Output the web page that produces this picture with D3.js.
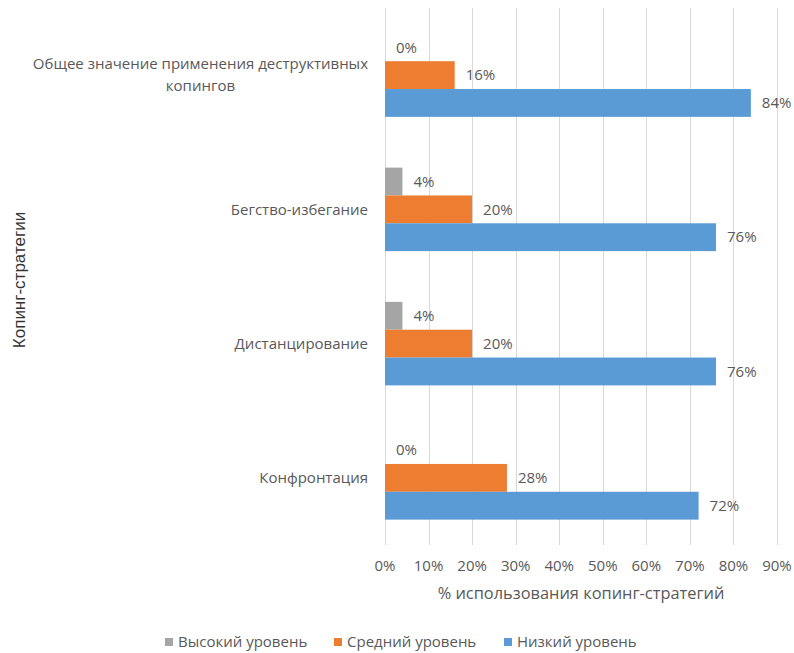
<!DOCTYPE html>
<html>
<head>
<meta charset="utf-8">
<script src="https://cdn.jsdelivr.net/npm/d3@7"></script>
<style>
  html, body { margin: 0; padding: 0; background: #fff; }
  svg { display: block; }
  text { font-family: "Open Sans", "DejaVu Sans", sans-serif; fill: #595959; }
</style>
</head>
<body>
<svg id="chart" width="794" height="653"></svg>
<script>
// Coping strategies, listed top to bottom
const categories = [
  ["Общее значение применения деструктивных", "копингов"],
  ["Бегство-избегание"],
  ["Дистанцирование"],
  ["Конфронтация"]
];
const seriesNames = ["Высокий уровень", "Средний уровень", "Низкий уровень"];
const seriesColors = ["#A5A5A5", "#ED7D31", "#5B9BD5"];

// Percent of respondents per level, in category order
const highValues   = [0, 4, 4, 0];
const mediumValues = [16, 20, 20, 28];
const lowValues    = [84, 76, 76, 72];

const xTicks = [0, 10, 20, 30, 40, 50, 60, 70, 80, 90];

const seriesValues = [highValues, mediumValues, lowValues];

const svg = d3.select("#chart");
const plot = { left: 385, right: 777, top: 8, bottom: 545 };

const x = d3.scaleLinear().domain([0, 90]).range([plot.left, plot.right]);
const y0 = d3.scaleBand()
  .domain(d3.range(categories.length))
  .range([plot.top, plot.bottom])
  .paddingInner(0.378)
  .paddingOuter(0.189);
const y1 = d3.scaleBand()
  .domain(d3.range(seriesNames.length))
  .range([0, y0.bandwidth()]);

// Vertical gridlines
svg.append("g")
  .selectAll("line")
  .data(xTicks)
  .join("line")
  .attr("x1", d => Math.round(x(d)) + 0.5)
  .attr("x2", d => Math.round(x(d)) + 0.5)
  .attr("y1", plot.top)
  .attr("y2", plot.bottom)
  .attr("stroke", "#D9D9D9")
  .attr("stroke-width", 1);

// Bars and their value labels
const groups = svg.append("g")
  .selectAll("g")
  .data(categories.map((c, i) => i))
  .join("g")
  .attr("transform", i => `translate(0,${y0(i)})`);

groups.selectAll("rect")
  .data(i => seriesValues.map((vals, s) => ({ s, v: vals[i] })))
  .join("rect")
  .attr("x", x(0))
  .attr("y", d => y1(d.s))
  .attr("width", d => x(d.v) - x(0))
  .attr("height", y1.bandwidth())
  .attr("fill", d => seriesColors[d.s]);

groups.selectAll("text.value")
  .data(i => seriesValues.map((vals, s) => ({ s, v: vals[i] })))
  .join("text")
  .attr("class", "value")
  .attr("x", d => x(d.v) + 11)
  .attr("y", d => y1(d.s) + y1.bandwidth() / 2)
  .attr("dy", "0.35em")
  .attr("font-size", 15)
  .text(d => d.v + "%");

// Category labels: block right-aligned to the axis, lines centred in the block
const catLabels = svg.append("g")
  .selectAll("text")
  .data(categories)
  .join("text")
  .attr("font-size", 15)
  .attr("text-anchor", "middle")
  .attr("transform", (d, i) => `translate(0,${y0(i) + y0.bandwidth() / 2})`);

catLabels.each(function (lines) {
  const t = d3.select(this);
  const lh = 22;
  const start = -(lines.length - 1) * lh / 2;
  lines.forEach((ln, k) => {
    t.append("tspan")
      .attr("y", start + k * lh)
      .attr("dy", "0.35em")
      .text(ln);
  });
  let w = 0;
  t.selectAll("tspan").each(function () { w = Math.max(w, this.getComputedTextLength()); });
  t.selectAll("tspan").attr("x", 368 - w / 2);
});

// X tick labels
svg.append("g")
  .selectAll("text")
  .data(xTicks)
  .join("text")
  .attr("x", d => x(d))
  .attr("y", 566)
  .attr("dy", "0.35em")
  .attr("text-anchor", "middle")
  .attr("font-size", 15)
  .text(d => d + "%");

// Axis titles
svg.append("text")
  .attr("x", (plot.left + plot.right) / 2)
  .attr("y", 593)
  .attr("dy", "0.35em")
  .attr("text-anchor", "middle")
  .attr("font-size", 16.4)
  .text("% использования копинг-стратегий");

svg.append("text")
  .attr("transform", "translate(19,280) rotate(-90)")
  .attr("dy", "0.35em")
  .attr("text-anchor", "middle")
  .attr("font-size", 17)
  .style("font-family", "'Liberation Sans', Arial, sans-serif")
  .style("fill", "#333")
  .text("Копинг-стратегии");

// Legend
const legendX = [165, 334, 504];
const legend = svg.append("g")
  .selectAll("g")
  .data(seriesNames)
  .join("g")
  .attr("transform", (d, i) => `translate(${legendX[i]},642)`);
legend.append("rect")
  .attr("x", 0).attr("y", -4)
  .attr("width", 8).attr("height", 8)
  .attr("fill", (d, i) => seriesColors[i]);
legend.append("text")
  .attr("x", 13)
  .attr("dy", "0.35em")
  .attr("font-size", 15)
  .text(d => d);
</script>
</body>
</html>
